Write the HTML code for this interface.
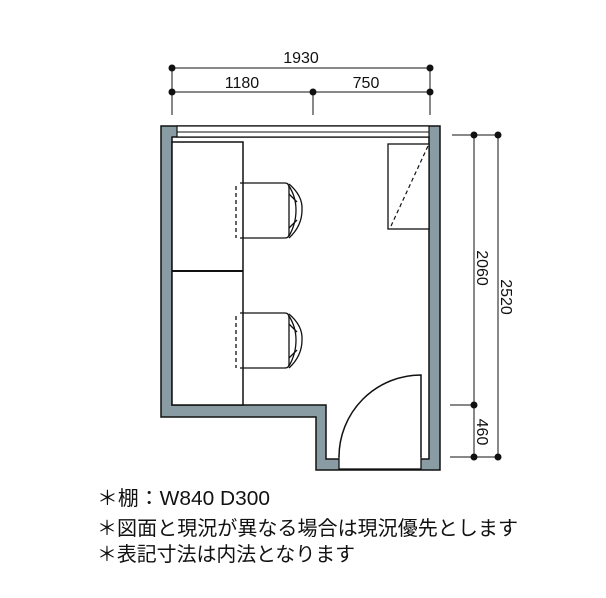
<!DOCTYPE html>
<html><head><meta charset="utf-8"><style>
html,body{margin:0;padding:0;background:#fff;}
svg{display:block;}
text{font-family:"Liberation Sans","Noto Sans CJK JP",sans-serif;fill:#111;}
</style></head><body>
<svg width="606" height="598" viewBox="0 0 606 598" xmlns="http://www.w3.org/2000/svg">
<!-- walls -->
<path d="M161,126 L440,126 L440,470 L316,470 L316,417 L161,417 Z" fill="#8a9ca3" stroke="#111" stroke-width="1.5"/>
<path d="M172,137 L429,137 L429,459 L326,459 L326,405 L172,405 Z" fill="#fff" stroke="#111" stroke-width="1.5"/>
<!-- window -->
<rect x="177" y="126" width="252" height="11" fill="#fff" stroke="#111" stroke-width="1.2"/>
<line x1="177" y1="132" x2="429" y2="132" stroke="#111" stroke-width="1"/>
<!-- desks -->
<rect x="172" y="142" width="71" height="263" fill="#fff" stroke="#111" stroke-width="1.5"/>
<line x1="172" y1="271" x2="243" y2="271" stroke="#111" stroke-width="2"/>
<!-- chairs -->
<g id="c1" fill="none" stroke="#111" stroke-width="1.3">
<path d="M240,183 L285,183 Q289,183 289,188 L289,234 Q289,238 285,238 L240,238"/>
<line x1="236" y1="186" x2="236" y2="238" stroke-dasharray="4,3"/>
<path d="M289,184 Q303,196 302,210 Q302,226 289,238"/>
<path d="M289,186 Q296,197 296,210 Q296,224 289,236"/>
<path d="M289,194 L297,202 M289,228 L297,220"/>
</g>
<use href="#c1" transform="translate(0,130)"/>
<!-- cabinet -->
<rect x="388" y="144" width="41" height="85" fill="#fff" stroke="#111" stroke-width="1.3"/>
<line x1="391" y1="226" x2="428" y2="146" stroke="#111" stroke-width="1.2" stroke-dasharray="4,3"/>
<!-- door -->
<rect x="339" y="456" width="82" height="13" fill="#fff" stroke="#111" stroke-width="1.3"/>
<path d="M339,457 A82,82 0 0 1 421,375 L421,457" fill="#fff" stroke="#111" stroke-width="1.5"/>
<!-- dimensions top -->
<g stroke="#111" stroke-width="1" fill="#111">
<line x1="172" y1="68" x2="430" y2="68"/>
<line x1="172" y1="92" x2="430" y2="92"/>
<line x1="172" y1="68" x2="172" y2="115"/>
<line x1="430" y1="68" x2="430" y2="115"/>
<line x1="313" y1="92" x2="313" y2="115"/>
<circle cx="172" cy="68" r="3"/><circle cx="430" cy="68" r="3"/>
<circle cx="172" cy="92" r="3"/><circle cx="313" cy="92" r="3"/><circle cx="430" cy="92" r="3"/>
<!-- right -->
<line x1="474" y1="135" x2="474" y2="457"/>
<line x1="498" y1="135" x2="498" y2="457"/>
<line x1="452" y1="135" x2="498" y2="135"/>
<line x1="450" y1="405" x2="474" y2="405"/>
<line x1="450" y1="457" x2="498" y2="457"/>
<circle cx="474" cy="135" r="3"/><circle cx="498" cy="135" r="3"/>
<circle cx="474" cy="405" r="3"/><circle cx="474" cy="457" r="3"/><circle cx="498" cy="457" r="3"/>
</g>
<text x="301" y="63" font-size="16" text-anchor="middle">1930</text>
<text x="242" y="88" font-size="16" text-anchor="middle">1180</text>
<text x="366" y="88" font-size="16" text-anchor="middle">750</text>
<text transform="translate(477,268) rotate(90)" font-size="16" text-anchor="middle">2060</text>
<text transform="translate(501,297) rotate(90)" font-size="16" text-anchor="middle">2520</text>
<text transform="translate(477,432) rotate(90)" font-size="16" text-anchor="middle">460</text>
<!-- notes -->
<text x="97" y="505" font-size="20" textLength="173" lengthAdjust="spacingAndGlyphs">＊棚：W840 D300</text>
<text x="97" y="535" font-size="20" textLength="421" lengthAdjust="spacingAndGlyphs">＊図面と現況が異なる場合は現況優先とします</text>
<text x="97" y="561" font-size="20" textLength="258" lengthAdjust="spacingAndGlyphs">＊表記寸法は内法となります</text>
</svg>
</body></html>
